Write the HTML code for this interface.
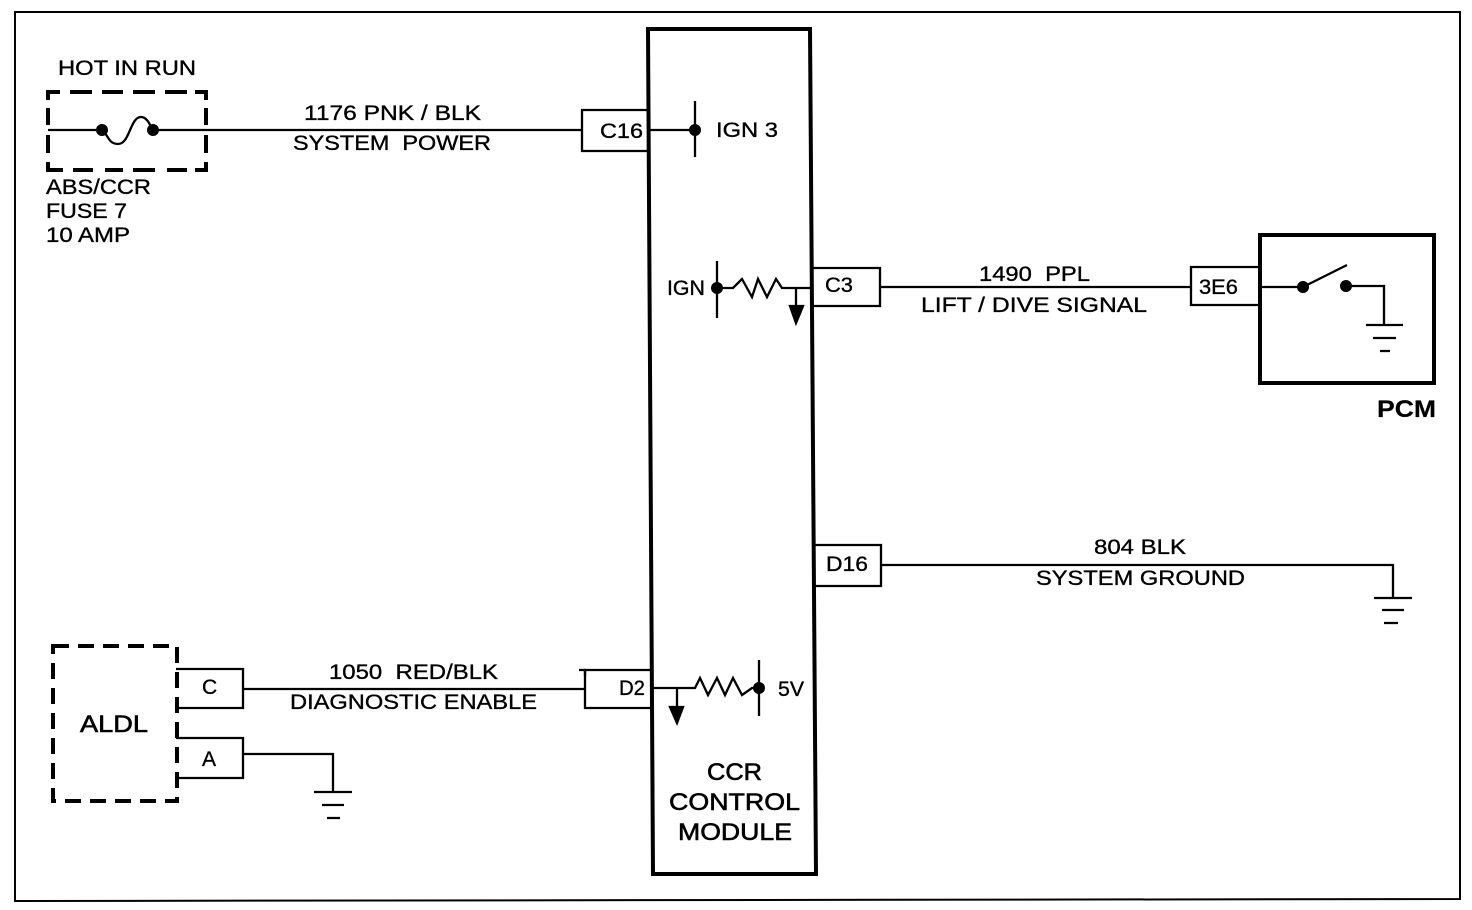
<!DOCTYPE html>
<html><head><meta charset="utf-8"><style>
html,body{margin:0;padding:0;background:#fff}
svg{display:block}
text{font-family:"Liberation Sans",sans-serif;fill:#000;stroke:#000;stroke-width:.35px;font-size:21px;white-space:pre}
.l{font-size:24px;stroke-width:.6px}
.b{font-size:24px;font-weight:bold;stroke-width:.2px}
</style></head><body>
<svg width="1472" height="910" viewBox="0 0 1472 910" xmlns="http://www.w3.org/2000/svg">
<rect width="1472" height="910" fill="#fff"/>
<g fill="none" stroke="#000" stroke-width="2.3">
<!-- outer frame -->
<path d="M15 12H1460V899L15 901Z" stroke-width="2"/>
<!-- module -->
<path d="M648 29H810L816 874H653Z" stroke-width="4"/>
<!-- fuse dashed -->
<path stroke-width="4" d="M48 100V92H60M70 92H92M102 92H123M133 92H155M165 92H187M195 92H206V100M48 108V125M48 135V153M48 162V170H63M73 170H93M105 170H123M133 170H155M167 170H187M195 170H206V162M206 108V125M206 135V153"/>
<path d="M48 130H102C108 134 108 144 118 144C130 144 130 117 141 117C147 117 150 125 153 130H582"/>
<!-- C16 -->
<path d="M649 110H582V151H650"/>
<path d="M650 130H695M695 101V157"/>
<!-- IGN -->
<path d="M717 261V318M717 288H733L742 279L752 297L758 279L767 297L776 279L782 288H812"/>
<path d="M796 288V312"/>
<path d="M790 306H803L796 323Z" fill="#000"/>
<!-- C3 -->
<path d="M812 268H880V306H812M880 287H1191"/>
<!-- 3E6 -->
<path d="M1260 267H1191V305H1260M1260 287H1303L1347 265M1346 286H1384V325"/>
<!-- PCM -->
<rect x="1260" y="235" width="174" height="148" stroke-width="4"/>
<path d="M1366 325H1403M1373 338H1396M1380 351H1390"/>
<!-- D16 -->
<path d="M815 545H881V586H815M881 565H1393V597M1374 598H1412M1382 610H1404M1384 623H1398"/>
<!-- D2 -->
<path d="M652 670H585V708H652M243 689H585M652 688H695L700 678L708 695L717 678L725 695L733 678L742 695L752 688H758M759 660V716"/>
<path d="M677 688V712"/>
<path d="M670 707H683L677 723Z" fill="#000"/>
<path d="M579 670H585V676"/>
<!-- ALDL -->
<rect x="53" y="646" width="124" height="155" stroke-width="4" stroke-dasharray="16 9"/>
<path d="M176 669H243V708H176M176 738H243V778H176M243 754H333V791M314 792H352M322 805H344M327 818H340"/>
</g>
<g fill="#000">
<circle cx="102" cy="130" r="6"/><circle cx="153" cy="130" r="6"/>
<circle cx="695" cy="130" r="6"/><circle cx="717" cy="288" r="6"/>
<circle cx="1303" cy="287" r="6"/><circle cx="1346" cy="286" r="6"/>
<circle cx="759" cy="688" r="6"/>
</g>
<text x="58" y="75" lengthAdjust="spacingAndGlyphs" textLength="138">HOT IN RUN</text>
<text x="304" y="120" lengthAdjust="spacingAndGlyphs" textLength="177">1176 PNK / BLK</text>
<text x="293" y="150" lengthAdjust="spacingAndGlyphs" textLength="198">SYSTEM  POWER</text>
<text x="46" y="194" lengthAdjust="spacingAndGlyphs" textLength="105">ABS/CCR</text>
<text x="46" y="218" lengthAdjust="spacingAndGlyphs" textLength="81">FUSE 7</text>
<text x="46" y="242" lengthAdjust="spacingAndGlyphs" textLength="84">10 AMP</text>
<text x="600" y="138" lengthAdjust="spacingAndGlyphs" textLength="43">C16</text>
<text x="716" y="137" lengthAdjust="spacingAndGlyphs" textLength="62">IGN 3</text>
<text x="667" y="295" lengthAdjust="spacingAndGlyphs" textLength="38">IGN</text>
<text x="825" y="292" lengthAdjust="spacingAndGlyphs" textLength="28">C3</text>
<text x="979" y="281" lengthAdjust="spacingAndGlyphs" textLength="111">1490  PPL</text>
<text x="921" y="312" lengthAdjust="spacingAndGlyphs" textLength="226">LIFT / DIVE SIGNAL</text>
<text x="1199" y="294" lengthAdjust="spacingAndGlyphs" textLength="39">3E6</text>
<text x="1377" y="417" class="b" lengthAdjust="spacingAndGlyphs" textLength="59">PCM</text>
<text x="826" y="571" lengthAdjust="spacingAndGlyphs" textLength="42">D16</text>
<text x="1094" y="554" lengthAdjust="spacingAndGlyphs" textLength="92">804 BLK</text>
<text x="1036" y="585" lengthAdjust="spacingAndGlyphs" textLength="209">SYSTEM GROUND</text>
<text x="329" y="679" lengthAdjust="spacingAndGlyphs" textLength="169">1050  RED/BLK</text>
<text x="290" y="709" lengthAdjust="spacingAndGlyphs" textLength="247">DIAGNOSTIC ENABLE</text>
<text x="619" y="695" lengthAdjust="spacingAndGlyphs" textLength="26">D2</text>
<text x="778" y="696" lengthAdjust="spacingAndGlyphs" textLength="26">5V</text>
<text x="202" y="694">C</text>
<text x="202" y="766">A</text>
<text x="80" y="732" class="l" lengthAdjust="spacingAndGlyphs" textLength="68">ALDL</text>
<text x="707" y="780" class="l" lengthAdjust="spacingAndGlyphs" textLength="55">CCR</text>
<text x="669" y="810" class="l" lengthAdjust="spacingAndGlyphs" textLength="131">CONTROL</text>
<text x="678" y="840" class="l" lengthAdjust="spacingAndGlyphs" textLength="114">MODULE</text>
</svg>
</body></html>
